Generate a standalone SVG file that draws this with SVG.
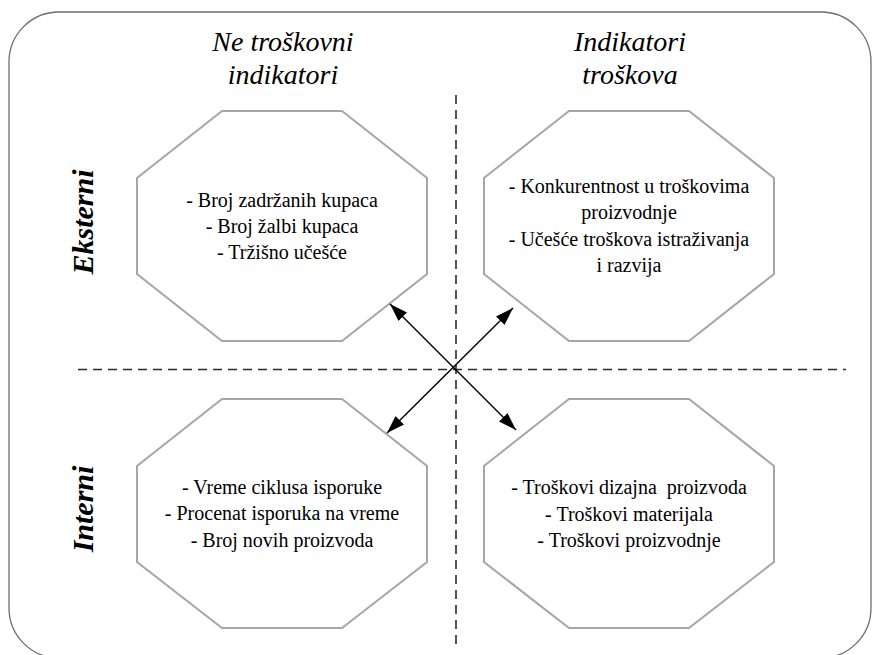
<svg xmlns="http://www.w3.org/2000/svg" width="877" height="655" viewBox="0 0 877 655">
  <style>
    .frame { fill: #ffffff; stroke: #6e6e6e; stroke-width: 1.3; }
    .oct { fill: #ffffff; stroke: #a6a6a6; stroke-width: 2; stroke-linejoin: miter; }
    .axis { fill: none; stroke: #2b2b2b; stroke-width: 1.6; stroke-dasharray: 9 6; }
    .link { fill: none; stroke: #000000; stroke-width: 1.5; }
  </style>
  <defs>
    <marker id="arrow" viewBox="0 0 18 12" refX="18" refY="6" markerWidth="18" markerHeight="12" markerUnits="userSpaceOnUse" orient="auto-start-reverse">
      <path d="M0,0 L18,6 L0,12 Z" fill="#000000"/>
    </marker>
  </defs>

  <!-- outer rounded frame -->
  <rect class="frame" x="9" y="12" width="862" height="646" rx="50" ry="50"/>

  <!-- column headings -->
  <g id="head-left" text-anchor="middle" font-size="28" font-style="italic">
    <text x="283" y="51" style="font-family: 'Liberation Serif', serif !important">Ne troškovni</text>
    <text x="283" y="84" style="font-family: 'Liberation Serif', serif !important">indikatori</text>
  </g>
  <g id="head-right" text-anchor="middle" font-size="28" font-style="italic">
    <text x="630" y="51" style="font-family: 'Liberation Serif', serif !important">Indikatori</text>
    <text x="630" y="84" style="font-family: 'Liberation Serif', serif !important">troškova</text>
  </g>

  <!-- row headings -->
  <g id="row-external" text-anchor="middle" font-size="30" font-style="italic" font-weight="bold">
    <text transform="translate(93,222) rotate(-90)" style="font-family: 'Liberation Serif', serif !important">Eksterni</text>
  </g>
  <g id="row-internal" text-anchor="middle" font-size="30" font-style="italic" font-weight="bold">
    <text transform="translate(93,509) rotate(-90)" style="font-family: 'Liberation Serif', serif !important">Interni</text>
  </g>

  <!-- quadrant dividers -->
  <g id="axes">
    <line class="axis" x1="456" y1="95" x2="456" y2="646"/>
    <line class="axis" x1="78" y1="369.5" x2="846" y2="369.5"/>
  </g>

  <!-- external / non-cost -->
  <g id="ext-noncost" text-anchor="middle" font-size="20">
    <polygon class="oct" points="222,111 342,111 427,178 427,274 342,341 222,341 137,274 137,178"/>
    <text x="282" y="207" style="font-family: 'Liberation Serif', serif !important">- Broj zadržanih kupaca</text>
    <text x="282" y="233" style="font-family: 'Liberation Serif', serif !important">- Broj žalbi kupaca</text>
    <text x="282" y="259" style="font-family: 'Liberation Serif', serif !important">- Tržišno učešće</text>
  </g>

  <!-- external / cost -->
  <g id="ext-cost" text-anchor="middle" font-size="20">
    <polygon class="oct" points="569,111 689,111 774,178 774,274 689,341 569,341 484,274 484,178"/>
    <text x="629" y="193" style="font-family: 'Liberation Serif', serif !important">- Konkurentnost u troškovima</text>
    <text x="629" y="219" style="font-family: 'Liberation Serif', serif !important">proizvodnje</text>
    <text x="629" y="246" style="font-family: 'Liberation Serif', serif !important">- Učešće troškova istraživanja</text>
    <text x="629" y="272" style="font-family: 'Liberation Serif', serif !important">i razvija</text>
  </g>

  <!-- internal / non-cost -->
  <g id="int-noncost" text-anchor="middle" font-size="20">
    <polygon class="oct" points="222,399 342,399 427,466 427,562 342,628 222,628 137,562 137,466"/>
    <text x="282" y="494" style="font-family: 'Liberation Serif', serif !important">- Vreme ciklusa isporuke</text>
    <text x="282" y="520" style="font-family: 'Liberation Serif', serif !important">- Procenat isporuka na vreme</text>
    <text x="282" y="547" style="font-family: 'Liberation Serif', serif !important">- Broj novih proizvoda</text>
  </g>

  <!-- internal / cost -->
  <g id="int-cost" text-anchor="middle" font-size="20">
    <polygon class="oct" points="569,399 689,399 774,466 774,562 689,628 569,628 484,562 484,466"/>
    <text x="629" y="494" style="font-family: 'Liberation Serif', serif !important; white-space: pre">- Troškovi dizajna  proizvoda</text>
    <text x="629" y="521" style="font-family: 'Liberation Serif', serif !important">- Troškovi materijala</text>
    <text x="629" y="547" style="font-family: 'Liberation Serif', serif !important">- Troškovi proizvodnje</text>
  </g>

  <!-- crossing double-headed connectors -->
  <g id="connectors">
    <line class="link" x1="390" y1="304" x2="516" y2="430" marker-start="url(#arrow)" marker-end="url(#arrow)"/>
    <line class="link" x1="513" y1="308" x2="387" y2="433" marker-start="url(#arrow)" marker-end="url(#arrow)"/>
  </g>
</svg>
